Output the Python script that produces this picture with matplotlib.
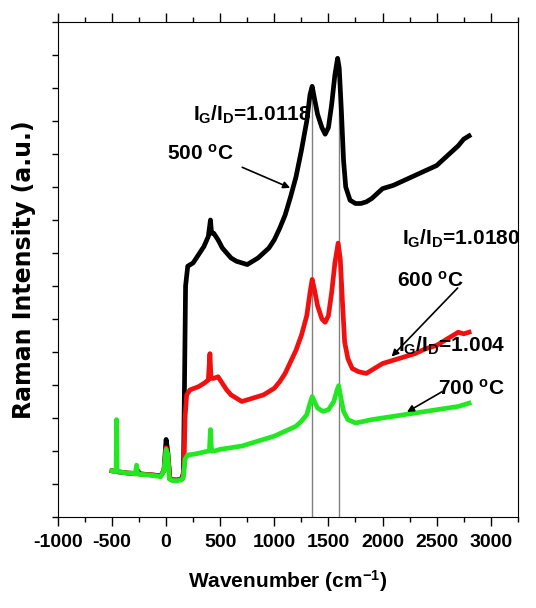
import numpy as np
import matplotlib.pyplot as plt
from matplotlib.ticker import MultipleLocator

# Values (wavenumber in cm^-1, intensity in arbitrary units)
x_500 = [-500, -470, -430, -350, -270, -260, -250, -150, -50, -20, 0, 15, 35, 60, 100, 140, 160,
         170, 180, 200, 250, 300, 350, 390, 410, 420, 440, 480, 520, 560, 600, 650, 700, 750, 800,
         850, 900, 950, 1000, 1050, 1100, 1150, 1200, 1250, 1300, 1330, 1350, 1370, 1400, 1440,
         1470, 1500, 1530, 1560, 1585, 1600, 1620, 1640, 1660, 1700, 1750, 1800, 1850, 1900, 1950,
         2000, 2100, 2200, 2300, 2400, 2500, 2600, 2700, 2750, 2800]
y_500 = [1.4, 1.38, 1.36, 1.33, 1.32, 1.4, 1.31, 1.28, 1.25, 1.4, 2.35, 2.0, 1.15, 1.12, 1.12, 1.15, 1.3,
         4.0, 7.0, 7.6, 7.7, 7.95, 8.2, 8.5, 9.0, 8.6, 8.6, 8.4, 8.15, 8.0, 7.85, 7.75, 7.7, 7.65, 7.75,
         7.85, 8.0, 8.15, 8.4, 8.75, 9.15, 9.7, 10.3, 11.1, 12.0, 12.8, 13.05, 12.7, 12.2, 11.8,
         11.6, 11.8, 12.5, 13.4, 13.9, 13.6, 12.3, 10.8, 10.0, 9.6, 9.5, 9.5, 9.55, 9.65, 9.8,
         9.95, 10.05, 10.2, 10.35, 10.5, 10.65, 10.95, 11.25, 11.45, 11.55]

x_600 = [-500, -350, -150, -50, -20, 0, 15, 35, 100, 150, 165, 175, 190, 220, 260, 300, 350, 390,
         405, 415, 440, 480, 520, 560, 600, 650, 700, 750, 800, 850, 900, 950, 1000, 1050, 1100,
         1150, 1200, 1250, 1300, 1330, 1350, 1370, 1400, 1440, 1470, 1500, 1530, 1560, 1590, 1610,
         1630, 1650, 1680, 1720, 1780, 1850, 1900, 1950, 2000, 2100, 2200, 2300, 2400, 2500, 2600,
         2700, 2750, 2800]
y_600 = [1.4, 1.33, 1.28, 1.25, 1.4, 2.1, 1.9, 1.15, 1.12, 1.15, 1.5, 3.0, 3.7, 3.85, 3.9, 3.95, 4.05, 4.15,
         4.95, 4.2, 4.2, 4.25, 4.05, 3.85, 3.7, 3.6, 3.5, 3.55, 3.6, 3.65, 3.7, 3.8, 3.9, 4.1, 4.35,
         4.7, 5.05, 5.5, 6.1, 6.8, 7.2, 6.9, 6.4, 6.0, 5.9, 6.1, 6.8, 7.7, 8.3, 7.8,
         6.5, 5.3, 4.8, 4.5, 4.4, 4.35, 4.45, 4.55, 4.65, 4.75, 4.85, 4.95, 5.1, 5.2, 5.4,
         5.6, 5.55, 5.6]

x_700 = [-500, -470, -462, -458, -452, -430, -350, -300, -285, -273, -262, -150, -50, -20, 0, 15,
         30, 60, 100, 140, 160, 175, 200, 250, 300, 350, 400, 410, 420, 450, 500, 600, 700, 800,
         900, 1000, 1100, 1200, 1250, 1300, 1330, 1350, 1370, 1400, 1450, 1500, 1550, 1580, 1595,
         1610, 1640, 1680, 1750, 1800, 1900, 2000, 2100, 2200, 2300, 2400, 2500, 2600, 2700, 2800]
y_700 = [1.4, 1.37, 1.4, 2.95, 1.4, 1.36, 1.33, 1.32, 1.3, 1.57, 1.3, 1.27, 1.22, 1.4, 2.05, 1.9,
         1.15, 1.1, 1.1, 1.12, 1.2, 1.75, 1.88, 1.9, 1.93, 1.97, 2.0, 2.65, 2.0, 2.0, 2.05, 2.1, 2.15, 2.25,
         2.35, 2.45, 2.6, 2.75, 2.9, 3.1, 3.45, 3.65, 3.5, 3.3, 3.2, 3.25, 3.5, 3.85, 3.98,
         3.7, 3.2, 2.95, 2.85, 2.88, 2.95, 3.0, 3.05, 3.1, 3.15, 3.2, 3.25, 3.3, 3.35, 3.45]

d_band = 1350
g_band = 1595

plt.rcParams['font.family'] = ['Liberation Sans', 'DejaVu Sans']
plt.rcParams['font.weight'] = 'bold'
plt.rcParams['axes.unicode_minus'] = False
plt.rcParams['mathtext.fontset'] = 'custom'
plt.rcParams['mathtext.rm'] = 'Liberation Sans'
plt.rcParams['mathtext.bf'] = 'Liberation Sans:bold'
plt.rcParams['mathtext.it'] = 'Liberation Sans:italic'

fig = plt.figure(figsize=(5.36, 6.08), dpi=100)
ax = fig.add_axes([0.108, 0.1497, 0.858, 0.8141])

ax.plot(x_500, y_500, color='black', lw=3.4)
ax.plot(x_600, y_600, color='#f01010', lw=3.4)
ax.plot(x_700, y_700, color='#22e822', lw=3.4)

# D and G band guides
ax.vlines([d_band, g_band], 0, [np.interp(d_band, x_500, y_500), np.interp(g_band, x_500, y_500)],
          color='gray', lw=1, zorder=1)

ax.set_xlim(-1000, 3250)
ax.set_ylim(0, 15)
ax.xaxis.set_major_locator(MultipleLocator(500))
ax.xaxis.set_minor_locator(MultipleLocator(250))
ax.yaxis.set_major_locator(MultipleLocator(1))
ax.set_yticklabels([])
ax.tick_params(axis='x', which='major', length=6.5, width=1, top=True, direction='out',
               pad=6, labelsize=14)
ax.tick_params(axis='x', which='minor', length=3.5, width=1, top=True, direction='out')
ax.tick_params(axis='y', length=4.5, width=1, direction='out')

ax.set_xlabel('Wavenumber (cm$^{\\mathbf{-1}}$)', fontweight='bold', fontsize=15, labelpad=12)
ax.set_ylabel('Raman Intensity (a.u.)', family='DejaVu Sans', fontweight='bold', fontsize=17, labelpad=8)

tkw = dict(fontweight='bold', fontsize=15, clip_on=False, va='center')
ax.text(247, 12.2, '$\\mathbf{I_G/I_D}$=1.0118', **tkw)
ax.text(6, 11.0, '500 $^\\mathbf{o}$C', **tkw)
ax.text(2176, 8.43, '$\\mathbf{I_G/I_D}$=1.0180', **tkw)
ax.text(2130, 7.16, '600 $^\\mathbf{o}$C', **tkw)
ax.text(2140, 5.2, '$\\mathbf{I_G/I_D}$=1.004', **tkw)
ax.text(2509, 3.9, '700 $^\\mathbf{o}$C', **tkw)

akw = dict(arrowstyle='-|>', color='black', lw=1.2, mutation_scale=10)
ax.annotate('', xy=(1170, 9.94), xytext=(680, 10.63), arrowprops=akw)
ax.annotate('', xy=(2066, 4.8), xytext=(2712, 7.0), arrowprops=akw)
ax.annotate('', xy=(2204, 3.14), xytext=(2573, 3.84), arrowprops=akw)

fig.savefig('out.png', dpi=100)
